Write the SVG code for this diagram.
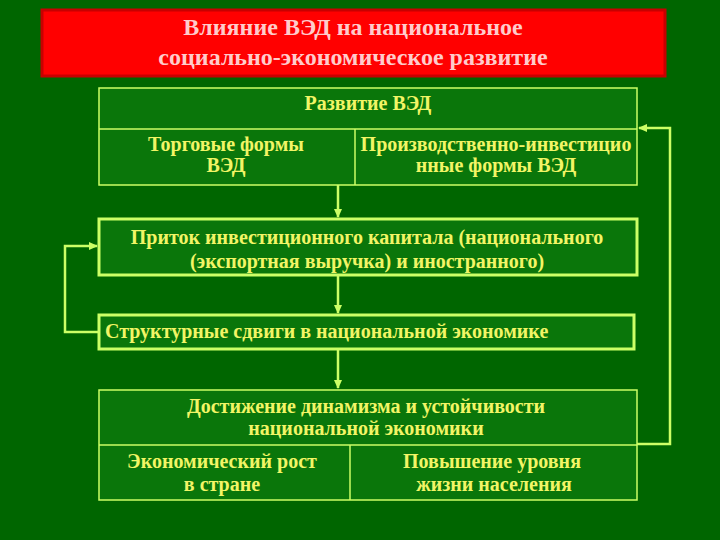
<svg xmlns="http://www.w3.org/2000/svg" width="720" height="540" viewBox="0 0 720 540">
<defs>
<style>
.bx{fill:#0a760a;stroke:#ccff66;stroke-width:1.5}
.bxt{fill:#0a760a;stroke:#ccff66;stroke-width:3}
.t{font-family:"Liberation Serif",serif;font-weight:bold;font-size:20px;fill:#f2f566}
.c{text-anchor:middle}
.ttl{font-family:"Liberation Serif",serif;font-weight:bold;font-size:24px;fill:#ffcccc;text-anchor:middle}
.ln{fill:none;stroke:#ccff66;stroke-width:2.5}
</style>
<marker id="ah" markerWidth="10" markerHeight="10" refX="8" refY="5" orient="auto" markerUnits="userSpaceOnUse">
<path d="M0,1 L9,5 L0,9 Z" fill="#ccff66"/>
</marker>
</defs>
<rect x="0" y="0" width="720" height="540" fill="#006600"/>
<g id="title">
<rect x="42" y="10" width="623" height="66" fill="#ff0000" stroke="#c80000" stroke-width="3"/>
<text class="ttl" x="353" y="35">Влияние ВЭД на национальное</text>
<text class="ttl" x="353" y="65">социально-экономическое развитие</text>
</g>
<g id="ved">
<rect class="bx" x="99" y="88" width="538" height="97"/>
<line x1="99" y1="129" x2="637" y2="129" stroke="#ccff66" stroke-width="1.5"/>
<line x1="355" y1="129" x2="355" y2="185" stroke="#ccff66" stroke-width="1.5"/>
<text class="t c" x="368" y="110">Развитие ВЭД</text>
<text class="t c" x="226" y="151">Торговые формы</text>
<text class="t c" x="226" y="172">ВЭД</text>
<text class="t c" x="496" y="151">Производственно-инвестицио</text>
<text class="t c" x="496" y="172">нные формы ВЭД</text>
</g>
<g id="inflow">
<rect class="bxt" x="99" y="219" width="538" height="56"/>
<text class="t c" x="367" y="244">Приток инвестиционного капитала (национального</text>
<text class="t c" x="367" y="268">(экспортная выручка) и иностранного)</text>
</g>
<g id="shifts">
<rect class="bxt" x="99" y="315" width="535" height="34"/>
<text class="t" x="105" y="338">Структурные сдвиги в национальной экономике</text>
</g>
<g id="result">
<rect class="bx" x="99" y="390" width="538" height="110"/>
<line x1="99" y1="445" x2="637" y2="445" stroke="#ccff66" stroke-width="1.5"/>
<line x1="350" y1="445" x2="350" y2="500" stroke="#ccff66" stroke-width="1.5"/>
<text class="t c" x="366" y="413">Достижение динамизма и устойчивости</text>
<text class="t c" x="366" y="435">национальной экономики</text>
<text class="t c" x="222" y="468">Экономический рост</text>
<text class="t c" x="222" y="491">в стране</text>
<text class="t c" x="492" y="468">Повышение уровня</text>
<text class="t c" x="494" y="491">жизни населения</text>
</g>
<g id="connectors">
<line class="ln" x1="338" y1="185" x2="338" y2="217" marker-end="url(#ah)"/>
<line class="ln" x1="338" y1="275" x2="338" y2="313" marker-end="url(#ah)"/>
<line class="ln" x1="338" y1="349" x2="338" y2="388" marker-end="url(#ah)"/>
<polyline class="ln" points="99,332 65,332 65,246 97,246" marker-end="url(#ah)"/>
<polyline class="ln" points="637,444 670,444 670,128 639,128" marker-end="url(#ah)"/>
</g>
</svg>
